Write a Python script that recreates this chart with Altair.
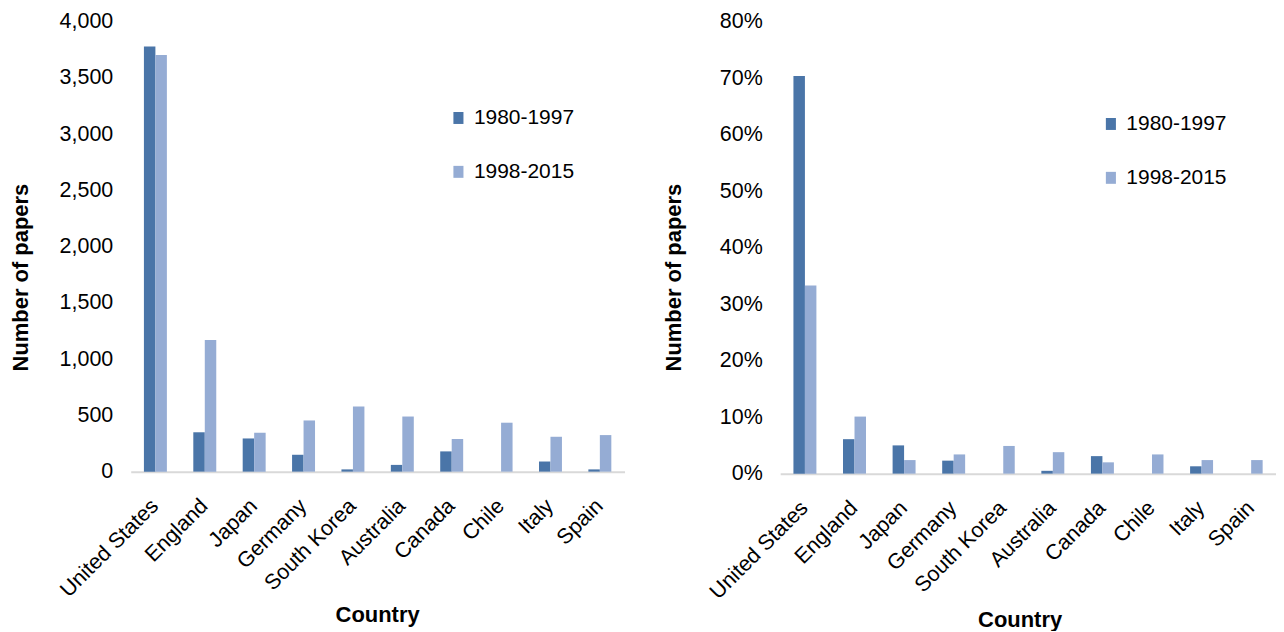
import altair as alt
import pandas as pd

countries = ["United States", "England", "Japan", "Germany", "South Korea",
             "Australia", "Canada", "Chile", "Italy", "Spain"]
periods = ["1980-1997", "1998-2015"]

# Left panel: number of papers
papers_1980_1997 = [3780, 350, 295, 150, 20, 60, 180, 0, 90, 20]
papers_1998_2015 = [3705, 1170, 345, 455, 580, 490, 290, 435, 310, 325]

# Right panel: share of papers (%)
share_1980_1997 = [70.4, 6.1, 5.0, 2.3, 0.0, 0.5, 3.1, 0.0, 1.3, 0.0]
share_1998_2015 = [33.3, 10.1, 2.4, 3.4, 4.9, 3.8, 2.0, 3.4, 2.4, 2.4]

count_ticks = [0, 500, 1000, 1500, 2000, 2500, 3000, 3500, 4000]
share_ticks = [0, 0.1, 0.2, 0.3, 0.4, 0.5, 0.6, 0.7, 0.8]


def to_long(a, b, scale=1.0):
    rows = []
    for c, v1, v2 in zip(countries, a, b):
        rows.append({"Country": c, "Period": periods[0], "Value": v1 * scale})
        rows.append({"Country": c, "Period": periods[1], "Value": v2 * scale})
    return pd.DataFrame(rows)


df_counts = to_long(papers_1980_1997, papers_1998_2015)
df_share = to_long(share_1980_1997, share_1998_2015, 0.01)

FONT = "Liberation Sans"
COLORS = ["#4A75A8", "#95ACD4"]
RECT = "M-0.84,-1H0.84V1H-0.84Z"


def panel(df, width, height, ticks, fmt, domain, lx, ly, ytx, yty, xtx, xty):
    return alt.Chart(df).mark_bar().encode(
        x=alt.X(
            "Country:N", sort=countries,
            scale=alt.Scale(paddingInner=0.535, paddingOuter=0.2675),
            axis=alt.Axis(
                title="Country", labelAngle=-45, labelAlign="right",
                labelBaseline="middle", labelPadding=31, ticks=False,
                domainColor="#D9D9D9", domainWidth=2,
                labelFont=FONT, labelFontSize=21.5, labelColor="black",
                titleFont=FONT, titleFontSize=22, titleFontWeight="bold",
                titleColor="black", titleX=xtx, titleY=xty,
                titleBaseline="middle", titleAlign="center",
            ),
        ),
        xOffset=alt.XOffset("Period:N", sort=periods),
        y=alt.Y(
            "Value:Q",
            scale=alt.Scale(domain=domain, nice=False),
            axis=alt.Axis(
                values=ticks, format=fmt, title="Number of papers",
                domain=False, ticks=False, grid=False, labelPadding=18,
                labelFont=FONT, labelFontSize=21.5, labelColor="black",
                titleFont=FONT, titleFontSize=22, titleFontWeight="bold",
                titleColor="black", titleX=ytx, titleY=yty,
                titleAngle=270, titleBaseline="middle", titleAlign="center",
            ),
        ),
        color=alt.Color(
            "Period:N",
            scale=alt.Scale(domain=periods, range=COLORS),
            legend=alt.Legend(
                title=None, orient="none", legendX=lx, legendY=ly,
                direction="vertical", symbolType=RECT, symbolSize=144,
                symbolStrokeWidth=0, symbolOpacity=1,
                labelFont=FONT, labelFontSize=21, labelColor="black",
                rowPadding=32, labelOffset=5, padding=0,
            ),
        ),
    ).properties(width=width, height=height)


left = panel(df_counts, 495, 451, count_ticks, ",d", [0, 4000],
             318, 86, -110, 256, 247, 143)
right = panel(df_share, 497, 453, share_ticks, ".0%", [0, 0.8],
              321, 92, -107, 256, 240, 146)

chart = (
    alt.hconcat(left, right, spacing=38)
    .resolve_scale(color="independent")
    .resolve_legend(color="independent")
    .properties(padding={"left": 2, "top": 2, "right": 0, "bottom": 0},
                background="white")
    .configure_view(strokeWidth=0, stroke=None)
)

chart.save("out.html", embed_options={"renderer": "svg", "actions": False})
